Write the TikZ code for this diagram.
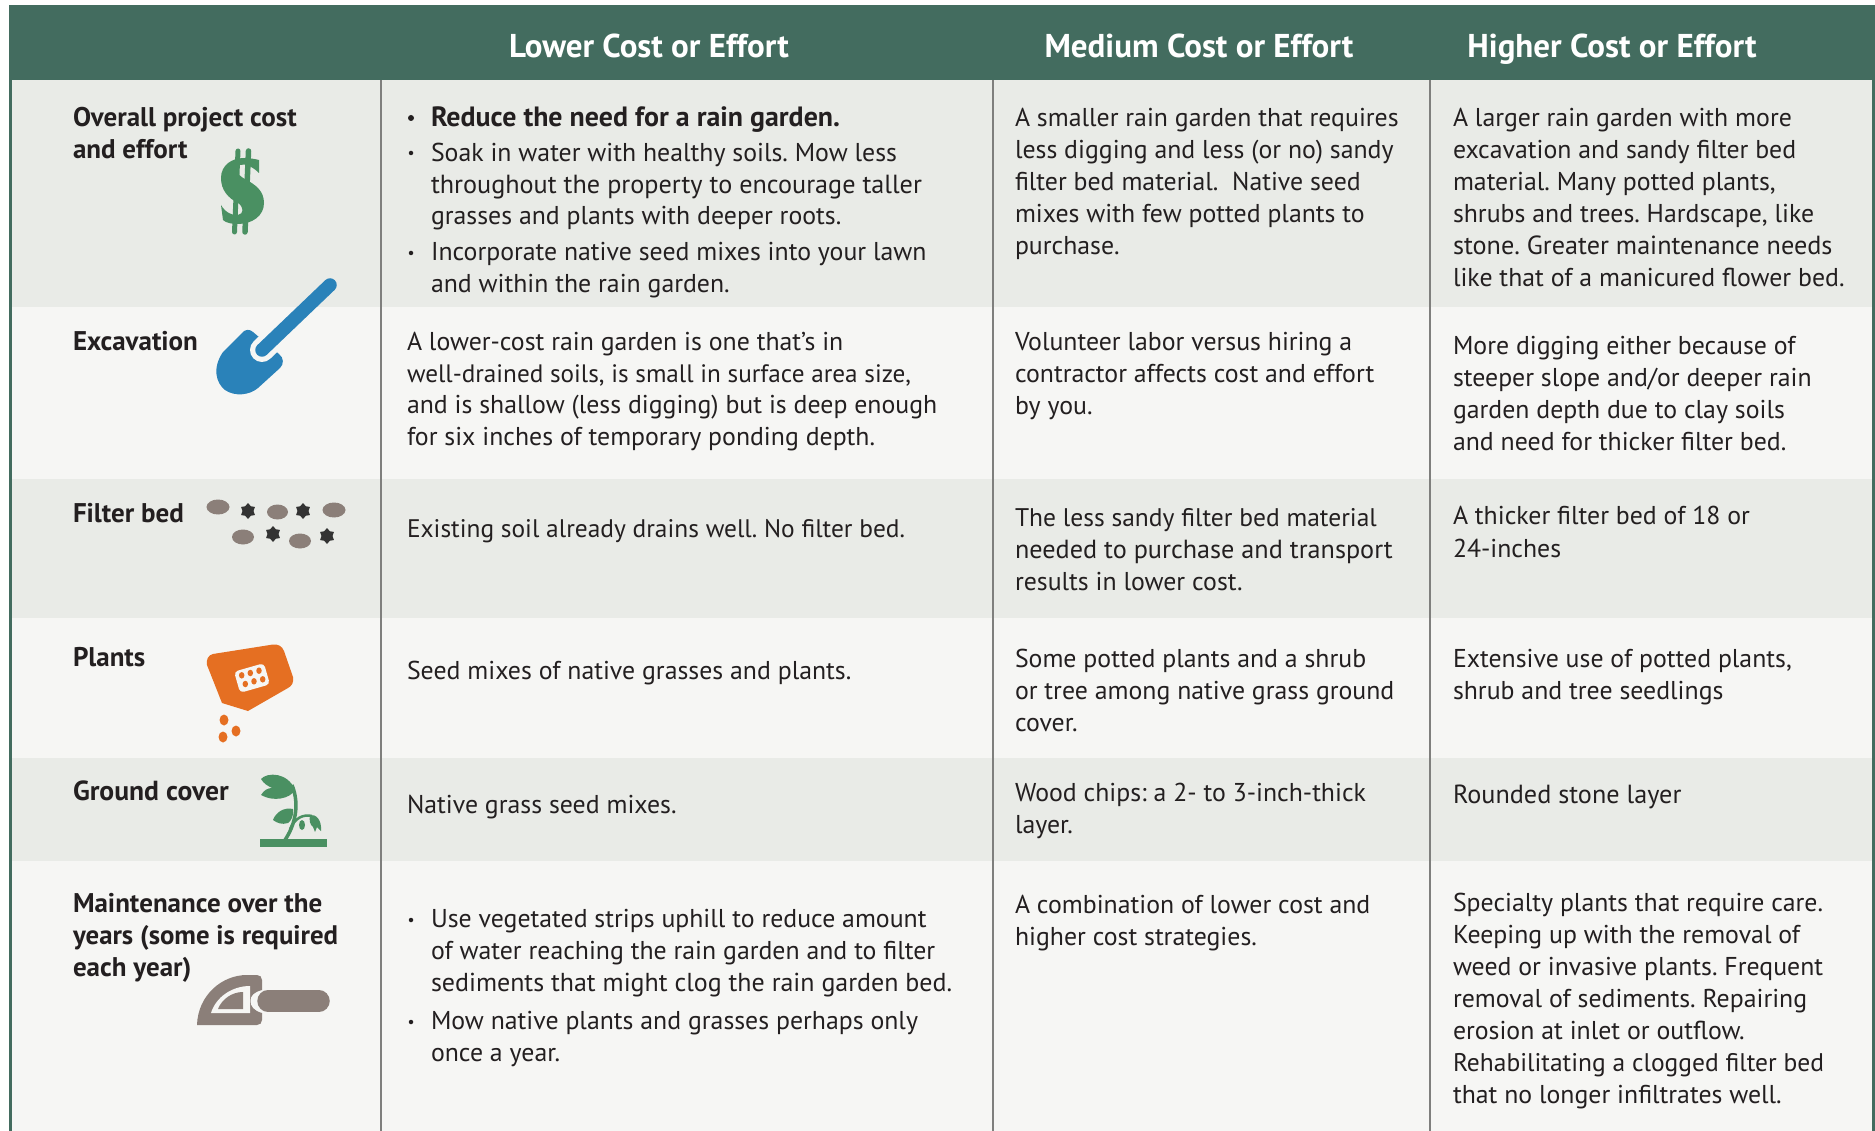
\documentclass[tikz,border=0pt]{standalone}
\usepackage{fontspec}
\usetikzlibrary{shapes.geometric}
\setmainfont{PT Sans}
\definecolor{hdr}{HTML}{436C5F}
\definecolor{rowa}{HTML}{E9EBE7}
\definecolor{rowb}{HTML}{F6F6F4}
\definecolor{ink}{HTML}{231F20}
\definecolor{rule}{HTML}{7F7F7D}
\definecolor{leaf}{HTML}{4A9062}
\definecolor{spade}{HTML}{2A82B9}
\definecolor{stone}{HTML}{8B7F79}
\definecolor{dark}{HTML}{333333}
\definecolor{seed}{HTML}{E56F22}
\tikzset{
 x=1pt,y=-1pt,
 tl/.style={anchor=base west,inner sep=0pt,outer sep=0pt,text=ink,font=\fontsize{25.8}{30}\selectfont\frenchspacing},
 tb/.style={tl,font=\fontsize{27}{30}\selectfont\bfseries\frenchspacing},
 fsr/.style={font=\fontsize{#1}{30}\selectfont\frenchspacing},
 fsb/.style={font=\fontsize{#1}{30}\selectfont\bfseries\frenchspacing},
 hd/.style={anchor=base,inner sep=0pt,text=white,font=\fontsize{33}{36}\selectfont\bfseries},
 bul/.style={circle,fill=ink,inner sep=0pt,minimum size=4.5pt},
 pebble/.style={ellipse,fill=stone,inner sep=0pt},
 grit/.style={star,star points=6,star point ratio=1.45,fill=dark,inner sep=0pt,minimum size=16pt},
 sd/.style={ellipse,fill=seed,inner sep=0pt,minimum width=9pt,minimum height=11pt},
 bagdot/.style={ellipse,fill=seed,inner sep=0pt,minimum width=5.5pt,minimum height=6.5pt},
}
\begin{document}
\begin{tikzpicture}
\useasboundingbox (0,0) rectangle (1875,1131);
\fill[white] (0,0) rectangle (1875,1131);
\fill[hdr] (9,5) rectangle (1875,80);
\fill[hdr] (9,5) rectangle (12,1131);
\fill[hdr] (1872,5) rectangle (1875,1131);
\fill[rowa] (12,80) rectangle (1872,307);
\fill[rowb] (12,307) rectangle (1872,479);
\fill[rowa] (12,479) rectangle (1872,618);
\fill[rowb] (12,618) rectangle (1872,758);
\fill[rowa] (12,758) rectangle (1872,861);
\fill[rowb] (12,861) rectangle (1872,1131);
\foreach \x in {381,993,1430}{\draw[rule,line width=1.4pt] (\x,80) -- (\x,1131);}
% header
\node[hd] (h1) at (649,58) {Lower Cost or Effort};
\node[hd] (h2) at (1199,58) {Medium Cost or Effort};
\node[hd] (h3) at (1612,58) {Higher Cost or Effort};
% row labels
\node[tb] (a1) at (73,127) {Overall project cost};
\node[tb] (a2) at (73,159) {and effort};
\node[tb] (a3) at (73,351) {Excavation};
\node[tb] (a4) at (73,522) {Filter bed};
\node[tb] (a5) at (73,666) {Plants};
\node[tb,fsb=27.6] (a6) at (73,800) {Ground cover};
\node[tb] (a7) at (73,912) {Maintenance over the};
\node[tb,fsb=26.8] (a8) at (73,944) {years (some is required};
\node[tb] (a9) at (73,976) {each year)};
% column 1
\node[bul,minimum size=6pt] (d1) at (411,118) {};
\node[tb,fsb=27.9] (b1) at (431,127) {Reduce the need for a rain garden.};
\node[bul] (d2) at (411,153) {};
\node[tl] (b2) at (431,162) {Soak in water with healthy soils. Mow less};
\node[tl,fsr=26.2] (b3) at (431,194) {throughout the property to encourage taller};
\node[tl] (b4) at (431,225) {grasses and plants with deeper roots.};
\node[bul] (d3) at (411,253) {};
\node[tl] (b5) at (431,261) {Incorporate native seed mixes into your lawn};
\node[tl] (b6) at (431,293) {and within the rain garden.};
\node[tl] (b7) at (407,351) {A lower-cost rain garden is one that’s in};
\node[tl,fsr=25.2] (b8) at (407,383) {well-drained soils, is small in surface area size,};
\node[tl] (b9) at (407,414) {and is shallow (less digging) but is deep enough};
\node[tl] (b10) at (407,446) {for six inches of temporary ponding depth.};
\node[tl,fsr=25.4] (b11) at (407,537) {Existing soil already drains well. No filter bed.};
\node[tl] (b12) at (407,679) {Seed mixes of native grasses and plants.};
\node[tl] (b13) at (407,813) {Native grass seed mixes.};
\node[bul] (d4) at (411,920) {};
\node[tl] (b14) at (431,927) {Use vegetated strips uphill to reduce amount};
\node[tl] (b15) at (431,959) {of water reaching the rain garden and to filter};
\node[tl,fsr=25.95] (b16) at (431,991) {sediments that might clog the rain garden bed.};
\node[bul] (d5) at (411,1022) {};
\node[tl] (b17) at (431,1029) {Mow native plants and grasses perhaps only};
\node[tl] (b18) at (431,1061) {once a year.};
% column 2
\node[tl] (c1) at (1015,127) {A smaller rain garden that requires};
\node[tl] (c2) at (1015,159) {less digging and less (or no) sandy};
\node[tl] (c3) at (1015,191) {filter bed material.\ \ Native seed};
\node[tl] (c4) at (1015,223) {mixes with few potted plants to};
\node[tl] (c5) at (1015,255) {purchase.};
\node[tl] (c6) at (1015,351) {Volunteer labor versus hiring a};
\node[tl] (c7) at (1015,383) {contractor affects cost and effort};
\node[tl] (c8) at (1015,415) {by you.};
\node[tl,fsr=25.5] (c9) at (1015,526) {The less sandy filter bed material};
\node[tl,fsr=26.2] (c10) at (1015,558) {needed to purchase and transport};
\node[tl] (c11) at (1015,590) {results in lower cost.};
\node[tl] (c12) at (1015,667) {Some potted plants and a shrub};
\node[tl] (c13) at (1015,699) {or tree among native grass ground};
\node[tl] (c14) at (1015,731) {cover.};
\node[tl] (c15) at (1015,801) {Wood chips: a 2- to 3-inch-thick};
\node[tl] (c16) at (1015,833) {layer.};
\node[tl] (c17) at (1015,913) {A combination of lower cost and};
\node[tl] (c18) at (1015,945) {higher cost strategies.};
% column 3
\node[tl] (e1) at (1453,127) {A larger rain garden with more};
\node[tl] (e2) at (1453,159) {excavation and sandy filter bed};
\node[tl] (e3) at (1453,191) {material. Many potted plants,};
\node[tl] (e4) at (1453,223) {shrubs and trees. Hardscape, like};
\node[tl,fsr=26.2] (e5) at (1453,255) {stone. Greater maintenance needs};
\node[tl] (e6) at (1453,287) {like that of a manicured flower bed.};
\node[tl] (e7) at (1453,355) {More digging either because of};
\node[tl] (e8) at (1453,387) {steeper slope and/or deeper rain};
\node[tl] (e9) at (1453,419) {garden depth due to clay soils};
\node[tl] (e10) at (1453,451) {and need for thicker filter bed.};
\node[tl] (e11) at (1453,525) {A thicker filter bed of 18 or};
\node[tl] (e12) at (1453,557) {24-inches};
\node[tl] (e13) at (1453,667) {Extensive use of potted plants,};
\node[tl] (e14) at (1453,699) {shrub and tree seedlings};
\node[tl,fsr=26.2] (e15) at (1453,803) {Rounded stone layer};
\node[tl] (e16) at (1453,911) {Specialty plants that require care.};
\node[tl] (e17) at (1453,943) {Keeping up with the removal of};
\node[tl] (e18) at (1453,975) {weed or invasive plants. Frequent};
\node[tl] (e19) at (1453,1007) {removal of sediments. Repairing};
\node[tl] (e20) at (1453,1039) {erosion at inlet or outflow.};
\node[tl,fsr=25.5] (e21) at (1453,1071) {Rehabilitating a clogged filter bed};
\node[tl] (e22) at (1453,1103) {that no longer infiltrates well.};
% dollar icon
\fill[leaf] (259,160) -- (259,173)
  .. controls (253,167) and (245,163) .. (240,165)
  .. controls (234,168) and (237,175) .. (245,179)
  .. controls (256,185) and (264,191) .. (264,203)
  .. controls (264,216) and (252,224) .. (238,224)
  .. controls (232,224) and (226,223) .. (223,220)
  -- (221,205)
  .. controls (225,212) and (232,216) .. (238,215)
  .. controls (244,214) and (244,207) .. (238,203)
  .. controls (228,198) and (221,190) .. (221,178)
  .. controls (221,165) and (232,158) .. (244,158)
  .. controls (250,158) and (255,159) .. (259,160) -- cycle;
\draw[leaf,line width=5pt,line cap=round] (238,151) -- (234.5,232);
\draw[leaf,line width=5.5pt,line cap=round] (248.5,151) -- (245,232);
% shovel icon
\fill[spade] (242,333) .. controls (245,329) and (250,329) .. (253,332)
  -- (279,354) .. controls (284,358) and (284,364) .. (280,368)
  -- (258,388) .. controls (250,395) and (235,397) .. (225,390)
  .. controls (216,383) and (212,368) .. (223,352) -- cycle;
\draw[rowb,line width=24pt,line cap=round] (262,350) -- (284,329);
\draw[spade,line width=13.5pt,line cap=round] (330,285) -- (262,350);
% filter bed icon
\node[pebble,minimum width=23pt,minimum height=15pt] (p1) at (218,507) {};
\node[pebble,minimum width=21pt,minimum height=15pt] (p2) at (277.5,512) {};
\node[pebble,minimum width=23pt,minimum height=15pt] (p3) at (334,510) {};
\node[pebble,minimum width=22pt,minimum height=15pt] (p4) at (243,537) {};
\node[pebble,minimum width=22pt,minimum height=15pt] (p5) at (300,541) {};
\node[grit] (g1) at (248,511) {};
\node[grit] (g2) at (303,511) {};
\node[grit] (g3) at (273,534) {};
\node[grit] (g4) at (327,536) {};
% seed bag icon
\fill[seed] (213,654) -- (273,644.5) .. controls (278,644) and (282,646) .. (284,651)
  -- (293,677) .. controls (294,682) and (292,686) .. (288,688)
  -- (248,711) -- (222,703) -- (207,665) .. controls (206,660) and (208,655) .. (213,654) -- cycle;
\node[rounded corners=4pt,fill=rowb,rotate=16,minimum width=31pt,minimum height=22pt,inner sep=0pt] (bag) at (252,678) {};
\node[bagdot] (bd1) at (241.7,675.3) {};
\node[bagdot] (bd2) at (250.3,673) {};
\node[bagdot] (bd3) at (259,670.7) {};
\node[bagdot] (bd4) at (245.3,684) {};
\node[bagdot] (bd5) at (254,681.3) {};
\node[bagdot] (bd6) at (262.7,679.3) {};
\node[sd] (s1) at (224,720) {};
\node[sd] (s2) at (236,731) {};
\node[sd] (s3) at (223,737) {};
% plant icon
\fill[leaf] (260,839) rectangle (327,847);
\draw[leaf,line width=3.5pt] (285,840) .. controls (295,825) and (300,805) .. (292,785);
\fill[leaf] (261,779) .. controls (267,772) and (288,772) .. (295,790)
  .. controls (290,799) and (273,802) .. (261,795)
  .. controls (264,790) and (268,788) .. (272,788)
  .. controls (268,786) and (264,784) .. (261,779) -- cycle;
\fill[leaf] (273,820) .. controls (276,812) and (284,807) .. (293,809)
  .. controls (294,816) and (291,821) .. (288,823)
  .. controls (282,825) and (277,823) .. (273,820) -- cycle;
\draw[leaf,line width=2.5pt] (290,829) .. controls (295,818) and (303,814) .. (312,816);
\fill[leaf] (310,815) .. controls (316,814) and (322,820) .. (321,831)
  -- (317,827) -- (315,832) -- (313,827)
  .. controls (310,825) and (309,820) .. (310,815) -- cycle;
\node[ellipse,fill=leaf,inner sep=0pt,minimum width=6pt,minimum height=10pt] (bud) at (302,825) {};
% trowel icon
\fill[stone] (197,1025) .. controls (198,995) and (222,975) .. (247,975)
  -- (257,975) .. controls (260,975) and (262,977) .. (262,980)
  -- (262,990) .. controls (254,992) and (250,996) .. (250.5,1001)
  .. controls (250,1006) and (254,1011) .. (262,1013)
  -- (262,1020) .. controls (262,1023) and (260,1025) .. (257,1025) -- cycle;
\fill[rowb] (211,1013) .. controls (216,997) and (232,986) .. (250,986)
  -- (250,1013) -- cycle;
\fill[stone] (218,1009) .. controls (222,999) and (232,992) .. (243,992)
  -- (243,1009) -- cycle;
\draw[stone,line width=21.5pt,line cap=round] (268,1001) -- (319,1001);
\end{tikzpicture}
\end{document}
